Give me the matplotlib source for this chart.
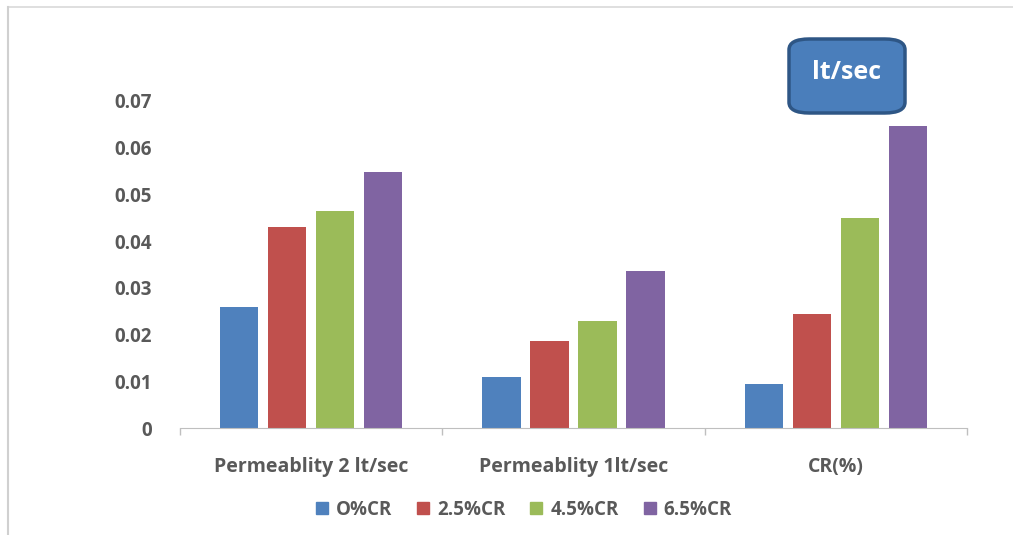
import matplotlib
matplotlib.use("Agg")
import matplotlib.pyplot as plt
import numpy as np
from matplotlib.lines import Line2D
from matplotlib.patches import FancyBboxPatch

# ── data ──────────────────────────────────────────────────────────────────────
categories = ["Permeablity 2 lt/sec", "Permeablity 1lt/sec", "CR(%)"]
series = ["O%CR", "2.5%CR", "4.5%CR", "6.5%CR"]
cr_0 = [0.026, 0.011, 0.0095]
cr_25 = [0.043, 0.0187, 0.0245]
cr_45 = [0.0465, 0.023, 0.045]
cr_65 = [0.0547, 0.0337, 0.0647]
yticks = [0, 0.01, 0.02, 0.03, 0.04, 0.05, 0.06, 0.07]
ytick_labels = ["0", "0.01", "0.02", "0.03", "0.04", "0.05", "0.06", "0.07"]

colors = ["#4F81BD", "#C0504D", "#9BBB59", "#8064A2"]
text_color = "#595959"
font = "Open Sans"

# ── figure ────────────────────────────────────────────────────────────────────
fig = plt.figure(figsize=(10.13, 5.35), dpi=100)
ax = fig.add_axes([180 / 1013, 1 - 428 / 535, 787 / 1013, 327 / 535])

x = np.arange(len(categories))
step = 0.183
width = 0.145
for i, (vals, name) in enumerate(zip([cr_0, cr_25, cr_45, cr_65], series)):
    ax.bar(x + (i - 1.5) * step, vals, width, color=colors[i], label=name)

ax.set_xlim(-0.5, 2.5)
ax.set_ylim(0, 0.07)

ax.set_yticks(yticks)
ax.set_yticklabels(ytick_labels, fontsize=13.5, fontweight="bold",
                   color=text_color, family=font)
ax.tick_params(axis="y", length=0, pad=20)

ax.set_xticks(x)
ax.set_xticklabels(categories, fontsize=14, fontweight="bold",
                   color=text_color, family=font)
ax.set_xticks([-0.5, 0.5, 1.5, 2.5], minor=True)
ax.tick_params(axis="x", which="major", length=0, pad=21)
ax.tick_params(axis="x", which="minor", length=5, color="#BFBFBF", width=1)

for side in ["top", "right", "left"]:
    ax.spines[side].set_visible(False)
ax.spines["bottom"].set_color("#BFBFBF")

# legend along the bottom
handles = [Line2D([], [], marker="s", linestyle="", markersize=9,
                  color=c) for c in colors]
fig.legend(handles, series, loc="center", bbox_to_anchor=(524 / 1013, 1 - 510 / 535),
           ncol=4, frameon=False, handlelength=0.6, handletextpad=0.45,
           columnspacing=1.35,
           prop={"family": font, "weight": "bold", "size": 13.5})
for t in fig.legends[0].get_texts():
    t.set_color(text_color)

# "lt/sec" badge
badge = FancyBboxPatch((789 / 1013, 1 - 113 / 535), 116 / 1013, 74 / 535,
                       boxstyle="round,pad=0,rounding_size=0.02",
                       transform=fig.transFigure, facecolor="#4A7EBB",
                       edgecolor="#2E5685", linewidth=2.5)
fig.patches.append(badge)
fig.text(847 / 1013, 1 - 72 / 535, "lt/sec", ha="center", va="center",
         color="white", fontsize=18, fontweight="bold", family=font)

# faint outer frame (top and left only)
fig.add_artist(Line2D([8 / 1013, 1], [1 - 7 / 535] * 2, transform=fig.transFigure,
                      color="#D9D9D9", linewidth=1.2))
fig.add_artist(Line2D([8 / 1013] * 2, [0, 1 - 7 / 535], transform=fig.transFigure,
                      color="#D0D0D0", linewidth=1.5))

fig.savefig("out.png", dpi=100)
